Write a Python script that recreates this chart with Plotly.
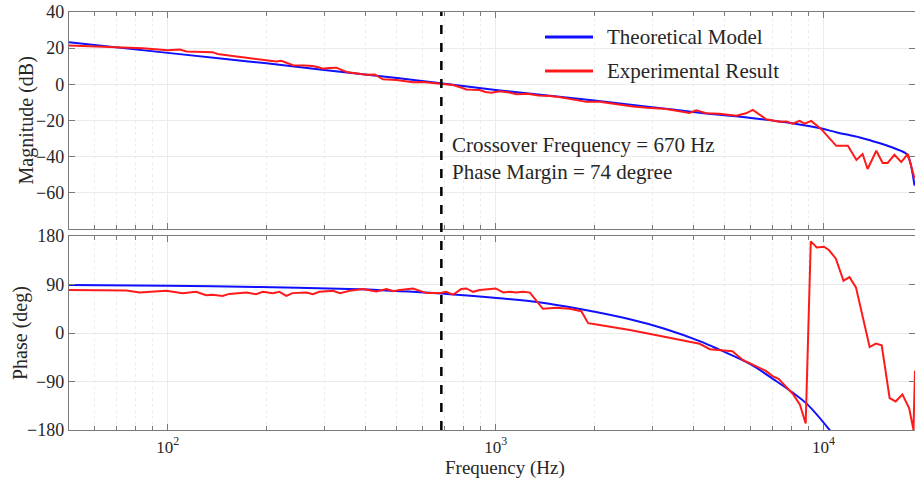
import math
import plotly.graph_objects as go

# ---------------- data ----------------
freq_theory_mag = [50, 100, 150, 200, 300, 500, 670, 1000, 2000, 3000, 4000, 6000,
                   8000, 9700, 11000, 12900, 14000, 15100, 16500, 17900, 18300, 18940]
mag_theory = [23.3, 17.4, 14.0, 11.6, 7.9, 3.5, 0.8, -3.1, -9.0, -12.6, -15.3, -18.6,
              -21.5, -24.2, -26.6, -29.4, -31.2, -33.0, -35.5, -38.5, -42.0, -56.0]

freq_theory_ph = [50, 100, 191, 385, 443, 683, 1028, 1333, 1808, 2566, 3273, 4188,
                  4814, 5960, 7200, 8105, 8910, 10500]
phase_theory = [89.0, 87.8, 85.2, 81.0, 79.5, 73.3, 64.4, 57.5, 44.5, 25.5, 8.0, -15.0,
                -31.0, -57.4, -90.0, -112.0, -132.0, -182.0]

freq_exp_mag = [50, 66.6, 84, 100, 109, 114, 125, 131, 137, 142, 151, 162, 174, 191, 205,
                214, 222, 230, 241, 260, 277, 290, 297, 310, 327, 351, 380, 403, 428, 453,
                498, 530, 560, 599, 640, 683, 741, 780, 814, 850, 894, 930, 970, 1028,
                1100, 1157, 1250, 1350, 1462, 1560, 1650, 1780, 1892, 2075, 2229, 2400,
                2620, 2900, 3313, 3600, 3900, 4090, 4387, 4817, 5418, 5800, 6086, 6685,
                7342, 7700, 8040, 8450, 8750, 9170, 9840, 10930, 11860, 12590, 13150,
                13620, 14480, 15140, 15680, 16450, 17250, 18070, 18940]
mag_exp = [21.5, 20.7, 20.0, 18.9, 19.3, 18.2, 18.0, 17.6, 17.8, 16.8, 16.0, 15.4, 14.7,
           13.8, 13.3, 12.7, 13.0, 11.8, 10.6, 10.4, 10.1, 9.3, 8.6, 9.0, 9.2, 6.8, 6.0,
           5.3, 5.5, 2.8, 2.4, 1.8, 1.1, 1.3, 0.8, 0.6, -0.4, -1.6, -2.8, -3.0, -3.1,
           -4.2, -4.6, -3.8, -4.5, -5.5, -5.2, -6.2, -6.4, -7.0, -7.8, -8.8, -9.7, -9.6,
           -10.5, -11.2, -12.2, -13.0, -13.6, -14.8, -15.8, -14.4, -16.0, -16.3, -17.4,
           -16.0, -14.1, -19.3, -20.7, -20.5, -21.7, -20.2, -21.7, -20.2, -24.8, -34.0,
           -34.0, -41.8, -38.5, -46.8, -36.7, -43.5, -43.5, -39.0, -43.0, -38.5, -52.0]

freq_exp_ph = [50, 66.6, 74.8, 82, 99, 111, 122, 131, 137, 147, 154, 174, 186, 195, 209,
               219, 230, 240, 265, 277, 290, 319, 335, 359, 393, 433, 465, 487, 510, 560,
               616, 675, 706, 741, 785, 814, 853, 894, 964, 1000, 1055, 1109, 1155, 1212,
               1272, 1393, 1530, 1680, 1825, 1914, 2075, 2566, 3155, 3700, 4188, 4500,
               4814, 5271, 5670, 6200, 6650, 6990, 7290, 8080, 8470, 8820, 9140, 9530,
               10020, 10380, 10900, 11500, 12000, 12550, 13170, 13820, 14430, 15040,
               15900, 16580, 17390, 18240, 18800, 19000]
phase_exp = [79.6, 79.6, 79.0, 75.2, 78.5, 73.9, 76.4, 70.0, 71.0, 68.8, 72.6, 75.2, 72.0,
             76.4, 74.0, 76.4, 68.8, 74.0, 75.2, 72.0, 76.4, 78.5, 74.0, 78.5, 81.5, 77.0,
             81.5, 77.7, 80.0, 82.7, 74.0, 74.0, 76.4, 71.0, 81.5, 82.7, 76.4, 79.6, 81.5,
             82.7, 75.2, 76.4, 75.0, 76.4, 75.0, 44.9, 46.8, 44.9, 40.4, 18.3, 15.0, 5.7,
             -5.0, -14.0, -20.0, -30.0, -32.0, -34.0, -50.0, -62.0, -70.0, -80.0, -85.0,
             -114.0, -133.0, -168.0, 170.0, 158.6, 160.0, 154.0, 138.0, 97.0, 103.6, 84.7,
             31.0, -26.0, -19.6, -22.7, -120.7, -127.0, -114.0, -139.6, -180.0, -70.0]

crossover_hz = 683
x_tick_vals = [100, 1000, 10000]
x_tick_text = ["10<sup>2</sup>", "10<sup>3</sup>", "10<sup>4</sup>"]
x_minor_vals = [60, 70, 80, 90, 200, 300, 400, 500, 600, 700, 800, 900,
                2000, 3000, 4000, 5000, 6000, 7000, 8000, 9000, 20000]
mag_ticks = [-60, -40, -20, 0, 20, 40]
phase_ticks = [-180, -90, 0, 90, 180]
legend_names = ["Theoretical Model", "Experimental Result"]
note_lines = ["Crossover Frequency = 670 Hz", "Phase Margin = 74 degree"]
titles = {"x": "Frequency (Hz)", "mag": "Magnitude (dB)", "phase": "Phase (deg)"}

# ---------------- styling ----------------
FONT = "Liberation Serif"
TXT = "#262626"
BLUE = "#1010ff"
RED = "#ff1a1a"
FRAME = "#7a7a7a"
GRID = "#ebebeb"
MGRID = "#ececec"

W, H = 915, 479
ML, MR, MT, MB = 69, 0, 12, 49
PW, PH = W - ML - MR, H - MT - MB


def py(ypx):
    return (H - MB - ypx) / PH


def px(xpx):
    return (xpx - ML) / PW


fig = go.Figure()
fig.add_trace(go.Scatter(x=freq_theory_mag, y=mag_theory, mode="lines",
                         line=dict(color=BLUE, width=2, shape="spline"),
                         xaxis="x", yaxis="y", showlegend=False))
fig.add_trace(go.Scatter(x=freq_exp_mag, y=mag_exp, mode="lines",
                         line=dict(color=RED, width=2),
                         xaxis="x", yaxis="y", showlegend=False))
fig.add_trace(go.Scatter(x=freq_theory_ph, y=phase_theory, mode="lines",
                         line=dict(color=BLUE, width=2, shape="spline"),
                         xaxis="x2", yaxis="y2", showlegend=False))
fig.add_trace(go.Scatter(x=freq_exp_ph, y=phase_exp, mode="lines",
                         line=dict(color=RED, width=2),
                         xaxis="x2", yaxis="y2", showlegend=False))

xr = [math.log10(50), math.log10(19000)]

common_x = dict(type="log", range=xr, showline=True, linecolor=FRAME, linewidth=1.3,
                mirror="ticks", ticks="inside", ticklen=6, tickcolor=FRAME,
                tickvals=x_tick_vals, ticktext=x_tick_text,
                showgrid=True, gridcolor=GRID, gridwidth=1, zeroline=False,
                minor=dict(tickvals=x_minor_vals, ticks="inside", ticklen=4,
                           tickcolor=FRAME, showgrid=True, gridcolor=MGRID,
                           griddash="dot", gridwidth=1),
                tickfont=dict(family=FONT, size=17, color=TXT))
common_y = dict(showline=True, linecolor=FRAME, linewidth=1.3, mirror="ticks",
                ticks="inside", ticklen=6, tickcolor=FRAME, showgrid=True,
                gridcolor=GRID, gridwidth=1, zeroline=False,
                tickfont=dict(family=FONT, size=18, color=TXT))

top_dom = [py(229), 1.0]
bot_dom = [0.0, py(236)]

fig.update_layout(
    width=W, height=H,
    margin=dict(l=ML, r=MR, t=MT, b=MB, pad=0),
    paper_bgcolor="white", plot_bgcolor="white",
    font=dict(family=FONT, color=TXT),
    xaxis=dict(common_x, domain=[0, 1], anchor="y", showticklabels=False),
    yaxis=dict(common_y, domain=top_dom, anchor="x", range=[-80, 40],
               tickvals=mag_ticks),
    xaxis2=dict(common_x, domain=[0, 1], anchor="y2", matches="x",
                ticklabelstandoff=1),
    yaxis2=dict(common_y, domain=bot_dom, anchor="x2", range=[-180, 180],
                tickvals=phase_ticks),
    showlegend=False,
)

# axis titles placed as text
fig.add_annotation(xref="paper", yref="paper", x=px(505), y=py(468), text=titles["x"],
                   showarrow=False, xanchor="center", yanchor="middle",
                   font=dict(family=FONT, size=19, color=TXT))
fig.add_annotation(xref="paper", yref="paper", x=px(26.5), y=py(121), text=titles["mag"],
                   showarrow=False, textangle=-90, xanchor="center", yanchor="middle",
                   font=dict(family=FONT, size=20, color=TXT))
fig.add_annotation(xref="paper", yref="paper", x=px(20), y=py(333), text=titles["phase"],
                   showarrow=False, textangle=-90, xanchor="center", yanchor="middle",
                   font=dict(family=FONT, size=20, color=TXT))

# crossover dashed line spanning both panels
fig.add_shape(type="line", xref="x", yref="paper", x0=crossover_hz, x1=crossover_hz,
              y0=0, y1=1, line=dict(color="black", width=2.5, dash="dash"))

# legend drawn as line samples + labels
for name, col, ypix in [(legend_names[0], BLUE, 37), (legend_names[1], RED, 71)]:
    fig.add_shape(type="line", xref="paper", yref="paper", x0=px(545), x1=px(593),
                  y0=py(ypix), y1=py(ypix), line=dict(color=col, width=3))
    fig.add_annotation(xref="paper", yref="paper", x=px(605), y=py(ypix), text=name,
                       showarrow=False, xanchor="left", yanchor="middle",
                       font=dict(family=FONT, size=21, color=TXT))

fig.add_annotation(xref="paper", yref="paper", x=px(450), y=py(158),
                   text="<br>".join(note_lines), showarrow=False, align="left",
                   xanchor="left", yanchor="middle",
                   font=dict(family=FONT, size=21, color=TXT))

fig.write_html("out.html")
